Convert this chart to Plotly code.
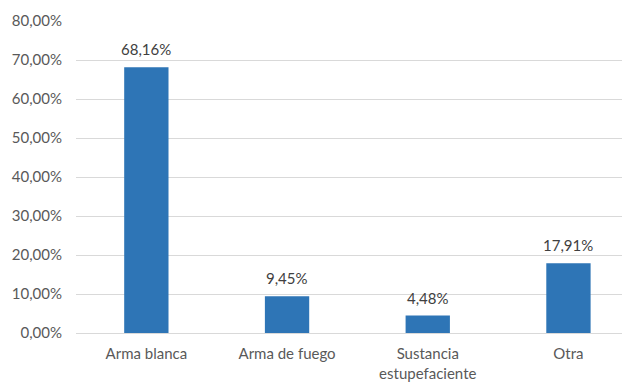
import plotly.graph_objects as go

categories = ["Arma blanca", "Arma de fuego", "Sustancia<br>estupefaciente", "Otra"]
values = [0.6816, 0.0945, 0.0448, 0.1791]
tick_vals = [0, 0.1, 0.2, 0.3, 0.4, 0.5, 0.6, 0.7, 0.8]

FONT = "Lato"
# page body has an 8px default margin; figure is sized to fill the remaining window
W, H = 622, 374
L, T, B = 68, 13, 49

fig = go.Figure()
fig.add_trace(go.Bar(
    x=list(range(len(categories))), y=values,
    marker=dict(color="#2E75B6", line=dict(width=0)),
    width=0.315,
))
for i, v in enumerate(values):
    fig.add_annotation(x=i, y=v, text=f"{v*100:.2f}%".replace(".", ","),
                       showarrow=False, yanchor="bottom", yshift=7,
                       font=dict(family=FONT, size=15, color="#404040"))

fig.update_layout(
    width=W, height=H,
    margin=dict(l=L, r=0, t=T, b=B),
    paper_bgcolor="white", plot_bgcolor="white",
    separators=",.",
    showlegend=False,
    font=dict(family=FONT, size=15, color="#595959"),
)
fig.update_xaxes(
    tickvals=list(range(len(categories))), ticktext=categories,
    range=[-0.5, -0.5 + (W - L) / 140.7],
    showgrid=False, zeroline=False, showline=False, ticks="",
    ticklabelstandoff=10, automargin=False,
    tickfont=dict(family=FONT, size=15, color="#595959"),
)
fig.update_yaxes(
    range=[0, 0.8], tickvals=tick_vals, tickformat=".2%",
    showgrid=True, gridcolor="#D9D9D9", gridwidth=1,
    zeroline=True, zerolinecolor="#D9D9D9", zerolinewidth=1,
    showline=False, ticks="",
    ticklabelstandoff=13, automargin=False,
    tickfont=dict(family=FONT, size=15, color="#595959"),
)
fig.write_html("out.html")
